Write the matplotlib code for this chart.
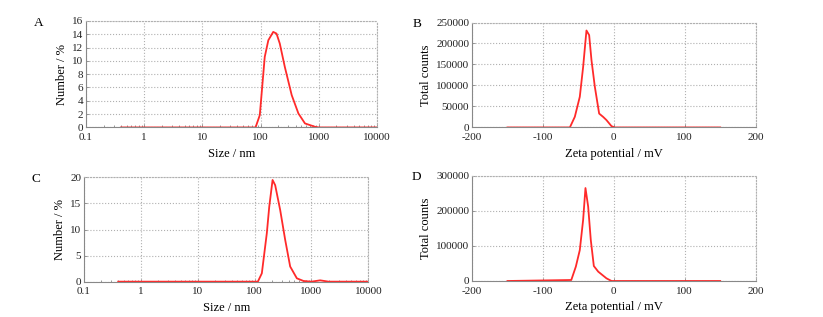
import matplotlib
matplotlib.use("Agg")
import matplotlib.pyplot as plt

plt.rcParams['font.family'] = ['Liberation Serif', 'DejaVu Serif']
plt.rcParams['axes.unicode_minus'] = False

# size distributions (nm, number %)
size_a = [0.4, 10, 82, 97, 118, 136, 165, 188, 214, 261, 343, 447, 580, 861, 1000, 10000]
num_a = [0, 0, 0, 1.85, 10.6, 13.1, 14.35, 14.1, 12.6, 9.1, 4.85, 2.1, 0.6, 0.1, 0, 0]

size_c = [0.4, 10, 114, 134, 164, 181, 207, 230, 282, 345, 422, 553, 723, 1000, 1420, 2000, 10000]
num_c = [0, 0, 0, 1.6, 9.3, 14.4, 19.5, 18.5, 13.7, 8.0, 2.9, 0.64, 0.13, 0, 0.25, 0, 0]

# zeta potential distributions (mV, total counts)
zeta_b = [-150, -62, -55, -48, -43.3, -38.6, -34.8, -31.5, -26.8, -20.7, -15, -10.4, -3.3, 1.4, 150]
cnt_b = [0, 0, 25400, 73000, 144000, 231000, 220000, 160000, 97000, 33000, 25000, 17500, 3000, 0, 0]

zeta_d = [-150, -60, -53.6, -48, -43.3, -40, -36.2, -32.5, -28.2, -22, -10.4, -3.3, 150]
cnt_d = [0, 2800, 40800, 88000, 174000, 265000, 212000, 117000, 42700, 26600, 7600, 0, 0]

size_ticks = [0.1, 1, 10, 100, 1000, 10000]
size_labels = ['0.1', '1', '10', '100', '1000', '10000']
zeta_ticks = [-200, -100, 0, 100, 200]

fig = plt.figure(figsize=(8.23, 3.17), dpi=100)

red = '#ff2a2a'
grid_c = '#b0b0b0'


def style(ax):
    ax.grid(True, which='major', linestyle=':', color=grid_c, linewidth=0.8)
    for s in ['top', 'right']:
        ax.spines[s].set_linestyle(':')
        ax.spines[s].set_color(grid_c)
        ax.spines[s].set_linewidth(0.8)
    for s in ['left', 'bottom']:
        ax.spines[s].set_color('#888888')
        ax.spines[s].set_linewidth(0.8)
    ax.tick_params(which='both', direction='in', length=2, width=0.6,
                   color='#888888', labelsize=8, labelcolor='#222222')
    ax.tick_params(axis='x', pad=4)
    ax.tick_params(axis='y', pad=2)
    ax.set_axisbelow(True)


def size_panel(rect, x, y, ymax, yticks, letter):
    ax = fig.add_axes(rect)
    ax.plot(x, y, color=red, linewidth=1.3)
    ax.set_xscale('log')
    ax.set_xlim(0.1, 10000)
    ax.set_ylim(0, ymax)
    ax.set_xticks(size_ticks)
    ax.set_xticklabels(size_labels)
    ax.set_yticks(yticks)
    ax.set_xlabel('Size / nm', fontsize=9, labelpad=4)
    ax.set_ylabel('Number / %', fontsize=9, labelpad=3)
    style(ax)
    ax.tick_params(axis='x', which='minor', length=1.5)
    fig.text(rect[0] - 0.058, rect[1] + rect[3] - 0.005, letter, fontsize=9.5, va='center', ha='center')
    return ax


def zeta_panel(rect, x, y, ymax, yticks, letter):
    ax = fig.add_axes(rect)
    ax.plot(x, y, color=red, linewidth=1.3)
    ax.set_xlim(-200, 200)
    ax.set_ylim(0, ymax)
    ax.set_xticks(zeta_ticks)
    ax.set_yticks(yticks)
    ax.set_xlabel('Zeta potential / mV', fontsize=9, labelpad=4)
    ax.set_ylabel('Total counts', fontsize=9, labelpad=3)
    style(ax)
    fig.text(rect[0] - 0.067, rect[1] + rect[3] - 0.005, letter, fontsize=9.5, va='center', ha='center')
    return ax


size_panel([0.1045, 0.598, 0.3535, 0.336], size_a, num_a, 16, range(0, 17, 2), 'A')
zeta_panel([0.5735, 0.598, 0.3447, 0.331], zeta_b, cnt_b, 250000, range(0, 250001, 50000), 'B')
size_panel([0.102, 0.1115, 0.3456, 0.329], size_c, num_c, 20, range(0, 21, 5), 'C')
zeta_panel([0.5735, 0.1136, 0.3447, 0.332], zeta_d, cnt_d, 300000, range(0, 300001, 100000), 'D')

fig.savefig('out.png', dpi=100)
